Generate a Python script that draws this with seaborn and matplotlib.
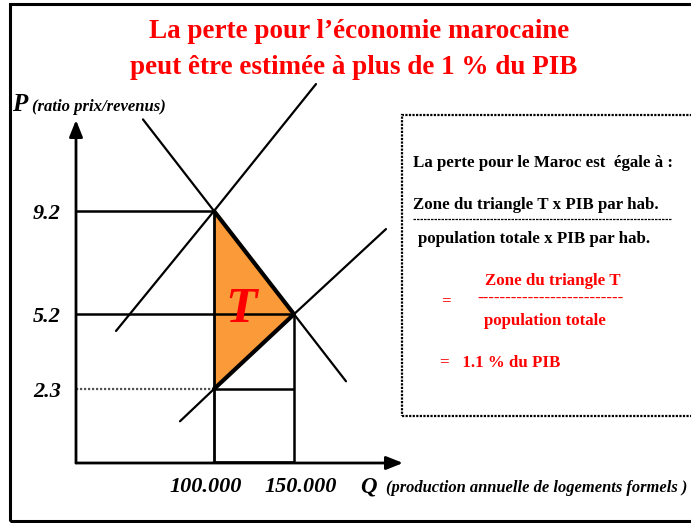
import matplotlib
matplotlib.use("Agg")
import matplotlib.pyplot as plt
from matplotlib.patches import Rectangle, Polygon
from matplotlib.lines import Line2D
from matplotlib.transforms import ScaledTranslation
import seaborn as sns
import pandas as pd

W, H, DPI = 691, 523, 100

# price levels (ratio prix/revenus) and quantities of formal housing
price_levels = [9.2, 5.2, 2.3]
price_labels = ["9.2", "5.2", "2.3"]
quantities = [100000, 150000]
quantity_labels = ["100.000", "150.000"]

# demand curve
demand_q = [55600, 100000, 150000, 182500]
demand_p = [12.75, 9.2, 5.2, 2.6]
# supply curve under current constraints
supply_hi_q = [38750, 100000, 163750]
supply_hi_p = [4.55, 9.2, 14.12]
# supply curve without constraints
supply_lo_q = [78750, 100000, 150000, 207500]
supply_lo_p = [1.05, 2.3, 5.2, 8.5]

# loss triangle T
triangle_q = [100000, 150000, 100000]
triangle_p = [9.2, 5.2, 2.3]

XMIN, XMAX = 13750, 218125
YMIN, YMAX = -0.567, 12.727

RED = "#FF0000"
ORANGE = "#FA9A38"

sns.set_style("white")
plt.rcParams["font.family"] = ["Liberation Serif", "DejaVu Serif"]
plt.rcParams["font.weight"] = "bold"
for key in ("text.color", "axes.labelcolor", "xtick.color", "ytick.color"):
    plt.rcParams[key] = "black"

fig = plt.figure(figsize=(W / DPI, H / DPI), dpi=DPI)


def fx(x):
    return x / W


def fy(y):
    return 1 - y / H


ax = fig.add_axes([fx(76), fy(463), (403 - 76) / W, (463 - 120) / H])
ax.set_xlim(XMIN, XMAX)
ax.set_ylim(YMIN, YMAX)
ax.patch.set_visible(False)
for s in ax.spines.values():
    s.set_visible(False)

# shaded loss triangle
ax.add_patch(Polygon(list(zip(triangle_q, triangle_p)), closed=True,
                     facecolor=ORANGE, edgecolor="none", zorder=1))

# guide lines to the axes
guide = dict(color="black", lw=1.8, zorder=2, solid_capstyle="butt")
ax.plot([XMIN, quantities[0]], [price_levels[0]] * 2, **guide)
ax.plot([XMIN, quantities[1]], [price_levels[1]] * 2, **guide)
ax.plot([XMIN, quantities[0]], [price_levels[2]] * 2, color="#555555",
        lw=1.6, ls=(0, (1, 0.8)), zorder=2)
ax.plot([quantities[0], quantities[1]], [price_levels[2]] * 2, **guide)
ax.plot([quantities[0]] * 2, [YMIN, price_levels[0]], color="black", lw=2.0, zorder=2)
ax.plot([quantities[1]] * 2, [YMIN, price_levels[1]], color="black", lw=1.8, zorder=2)
ax.plot([quantities[0], quantities[1]], [YMIN, YMIN], color="black", lw=2.6, zorder=2)

# demand and supply curves
curves = pd.concat([
    pd.DataFrame({"Q": demand_q, "P": demand_p, "courbe": "demande"}),
    pd.DataFrame({"Q": supply_hi_q, "P": supply_hi_p, "courbe": "offre contrainte"}),
    pd.DataFrame({"Q": supply_lo_q, "P": supply_lo_p, "courbe": "offre libre"}),
])
for name, grp in curves.groupby("courbe", sort=False):
    sns.lineplot(data=grp, x="Q", y="P", sort=False, estimator=None, ax=ax,
                 color="black", lw=1.6, clip_on=False, zorder=3, legend=False)

# thick edges of triangle T
sns.lineplot(x=triangle_q[0:2], y=triangle_p[0:2], sort=False, estimator=None,
             ax=ax, color="black", lw=3.0, zorder=4)
sns.lineplot(x=triangle_q[1:3], y=triangle_p[1:3], sort=False, estimator=None,
             ax=ax, color="black", lw=3.0, zorder=4)
ax.set_xlabel("")
ax.set_ylabel("")

# axes with arrows
arrow = dict(arrowstyle="-|>,head_width=0.4,head_length=1.0", lw=2.0,
             color="black", shrinkA=0, shrinkB=0, mutation_scale=10)
ax.annotate("", xy=(XMAX, YMIN), xytext=(XMIN, YMIN), arrowprops=arrow,
            annotation_clip=False, zorder=5)
ax.annotate("", xy=(XMIN, YMAX), xytext=(XMIN, YMIN), arrowprops=arrow,
            annotation_clip=False, zorder=5)

# tick labels
tick_font = dict(fontsize=16, fontweight="bold", fontstyle="italic")
ax.set_yticks(price_levels, labels=price_labels, **tick_font)
ax.set_xticks(quantities, labels=quantity_labels, **tick_font)
ax.tick_params(axis="y", length=0, pad=11, labelcolor="black")
ax.tick_params(axis="x", length=0, pad=10, labelcolor="black")
for lbl, dx in zip(ax.get_xticklabels(), [-8, 7]):
    lbl.set_transform(lbl.get_transform() + ScaledTranslation(dx / DPI, 0, fig.dpi_scale_trans))

ax.text(117000, 5.36, "T", color=RED, fontsize=37, fontweight="bold",
        fontstyle="italic", ha="center", va="center", zorder=6)

# axis titles
fig.text(fx(12), fy(111), "P", fontsize=18, fontweight="bold", fontstyle="italic")
fig.text(fx(32), fy(111), "(ratio prix/revenus)", fontsize=12,
         fontweight="bold", fontstyle="italic")
fig.text(fx(360), fy(492), "Q", fontsize=16.5, fontweight="bold", fontstyle="italic")
fig.text(fx(386), fy(492), "(production annuelle de logements formels )",
         fontsize=11.9, fontweight="bold", fontstyle="italic")

# title
fig.text(fx(359), fy(38), "La perte pour l\u2019\u00e9conomie marocaine", color=RED,
         fontsize=19.5, fontweight="bold", ha="center", va="baseline")
fig.text(fx(354), fy(74), "peut \u00eatre estim\u00e9e \u00e0 plus de 1 % du PIB", color=RED,
         fontsize=19.5, fontweight="bold", ha="center", va="baseline")

# explanation box
fig.add_artist(Rectangle((fx(402), fy(416)), (720 - 402) / W, (416 - 115) / H,
                         transform=fig.transFigure, fill=False, edgecolor="black",
                         lw=1.6, ls=(0, (1, 0.6)), clip_on=False))
box_font = dict(fontsize=12.2, fontweight="bold", va="baseline")
fig.text(fx(413), fy(167), "La perte pour le Maroc est  \u00e9gale \u00e0 :", **box_font)
fig.text(fx(413), fy(209), "Zone du triangle T x PIB par hab.", **box_font)
fig.add_artist(Line2D([fx(413), fx(672)], [fy(219), fy(219)], transform=fig.transFigure,
                      color="black", lw=0.9, ls=(0, (2, 0.8))))
fig.text(fx(418), fy(243), "population totale x PIB par hab.", **box_font)
fig.text(fx(553), fy(285), "Zone du triangle T", color=RED, ha="center", **box_font)
fig.text(fx(441), fy(305), "=", color=RED, **box_font)
fig.text(fx(551), fy(303), "--------------------------", color=RED, ha="center", **box_font)
fig.text(fx(545), fy(325), "population totale", color=RED, ha="center", **box_font)
fig.text(fx(440), fy(367), "=   1.1 % du PIB", color=RED, **box_font)

# outer frame
fig.add_artist(Rectangle((fx(10), fy(521)), (720 - 10) / W, (521 - 4) / H,
                         transform=fig.transFigure, fill=False, edgecolor="black",
                         lw=2.2, clip_on=False))

fig.savefig("out.png", dpi=DPI)
